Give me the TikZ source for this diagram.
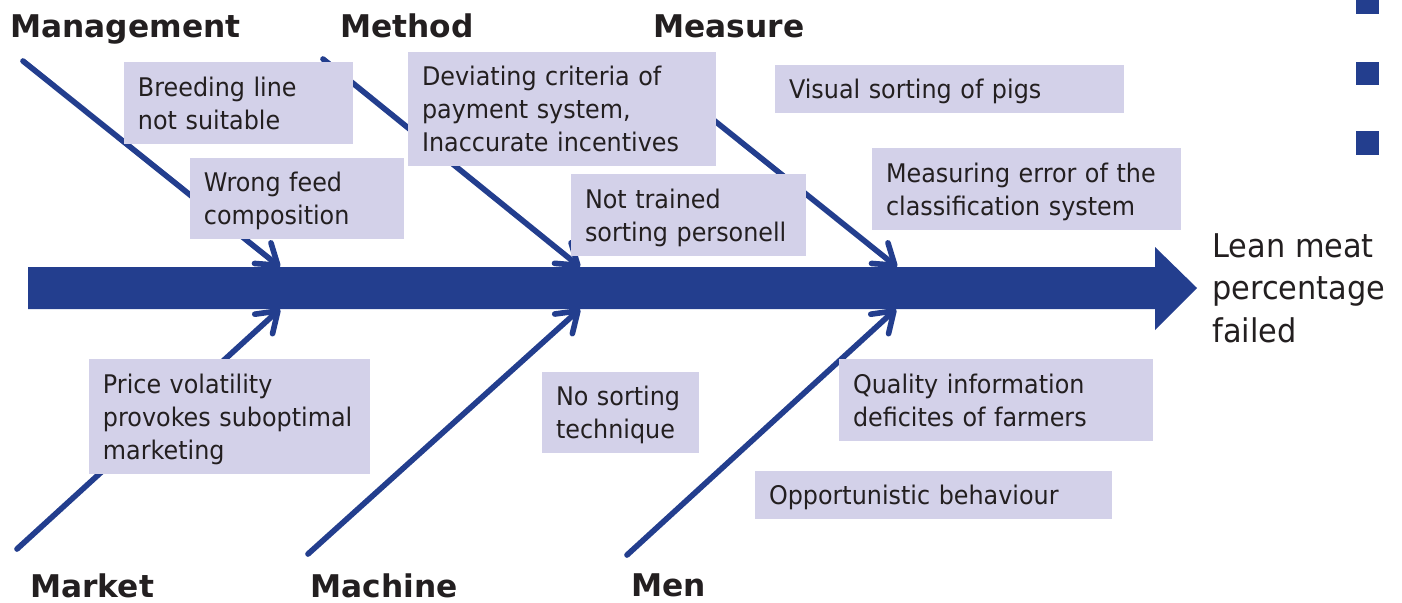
\documentclass[tikz,border=0pt]{standalone}
\usepackage{fontspec}
\setmainfont{DejaVu Sans}[FakeStretch=0.93]
\newfontfamily\catfont{DejaVu Sans}
\usetikzlibrary{arrows.meta}
\definecolor{fishblue}{RGB}{35,62,142}
\definecolor{causefill}{RGB}{211,209,233}
\definecolor{inktext}{RGB}{35,31,32}
\tikzset{
  cause/.style={fill=causefill, draw=none, inner xsep=0.28cm, inner ysep=0pt,
    align=left, text=inktext, font=\fontsize{14.6}{18.8}\selectfont},
  % centre the lines from the first ascender to the last baseline
  oneline/.style={text depth=0pt},
  twolines/.style={text depth=18.8pt},
  threelines/.style={text depth=37.6pt},
  bone/.style={draw=fishblue, line width=3.2pt, line cap=round,
    -{Straight Barb[length=11pt,width=15pt,round]}},
  category/.style={text=inktext, inner sep=0pt, anchor=base west,
    font=\catfont\bfseries\fontsize{17.8}{20}\selectfont},
  effect/.style={text=inktext, inner sep=0pt, anchor=west, align=left,
    font=\fontsize{18.6}{24.2}\selectfont},
  bullet/.style={fill=fishblue}
}
% cause box from its corners (in the 0.02cm grid): [options] name, x1, y1, x2, y2, text
\newcommand\causebox[7][]{%
  \pgfmathsetmacro\bw{(#5-#3)*0.02}%
  \pgfmathsetmacro\bh{(#6-#4)*0.02}%
  \pgfmathsetmacro\tw{(#5-#3)*0.02-0.56}%
  \node[cause, minimum width=\bw cm, minimum height=\bh cm, text width=\tw cm, #1]
    (#2) at ({(#3+#5)/2},{(#4+#6)/2}) {#7};}
\begin{document}
\begin{tikzpicture}[x=0.02cm, y=-0.02cm]
\useasboundingbox (0,0) rectangle (1402,602);

% spine of the fishbone
\fill[fishblue] (28,267) -- (1155,267) -- (1155,247) -- (1197,288)
  -- (1155,330) -- (1155,309) -- (28,309) -- cycle;

% bone ends
\coordinate (tailMgmt) at (23,61);   \coordinate (headMgmt) at (280,267);
\coordinate (tailMeth) at (323,59);  \coordinate (headMeth) at (580,267);
\coordinate (tailMeas) at (640,61);  \coordinate (headMeas) at (897,267);
\coordinate (tailMark) at (17,549);  \coordinate (headMark) at (280,309);
\coordinate (tailMach) at (308,554); \coordinate (headMach) at (580,309);
\coordinate (tailMen)  at (627,555); \coordinate (headMen)  at (896,309);

\draw[bone] (tailMgmt) -- (headMgmt);
\draw[bone] (tailMeth) -- (headMeth);
\draw[bone] (tailMeas) -- (headMeas);
\draw[bone] (tailMark) -- (headMark);
\draw[bone] (tailMach) -- (headMach);
\draw[bone] (tailMen)  -- (headMen);

% causes
\causebox[twolines]{breed}{124}{62}{353}{144}{Breeding line\\not suitable}
\causebox[twolines]{feed}{190}{158}{404}{239}{Wrong feed\\composition}
\causebox[threelines]{pay}{408}{52}{716}{166}{Deviating criteria of\\payment system,\\Inaccurate incentives}
\causebox[oneline]{visual}{775}{65}{1124}{113}{Visual sorting of pigs}
\causebox[twolines]{measerr}{872}{148}{1181}{230}{Measuring error of the\\classification system}
\causebox[twolines]{staff}{571}{174}{806}{256}{Not trained\\sorting personell}
\causebox[threelines]{price}{89}{359}{370}{474}{Price volatility\\provokes suboptimal\\marketing}
\causebox[twolines]{notech}{542}{372}{699}{453}{No sorting\\technique}
\causebox[twolines]{quality}{839}{359}{1153}{441}{Quality information\\deficites of farmers}
\causebox[oneline]{opport}{755}{471}{1112}{519}{Opportunistic behaviour}

% categories
\node[category] (mgmt) at (10,37) {Management};
\node[category] (meth) at (340,37) {Method};
\node[category] (meas) at (653,37) {Measure};
\node[category] (mark) at (30,597) {Market};
\node[category] (mach) at (310,597) {Machine};
\node[category] (men)  at (631,596) {Men};

% effect
\node[effect] (effect) at (1212,288) {Lean meat\\percentage\\failed};

% bullets at the right edge
\fill[bullet] (1356,0) rectangle (1379,14);
\fill[bullet] (1356,62) rectangle (1379,85);
\fill[bullet] (1356,131) rectangle (1379,155);
\end{tikzpicture}
\end{document}
